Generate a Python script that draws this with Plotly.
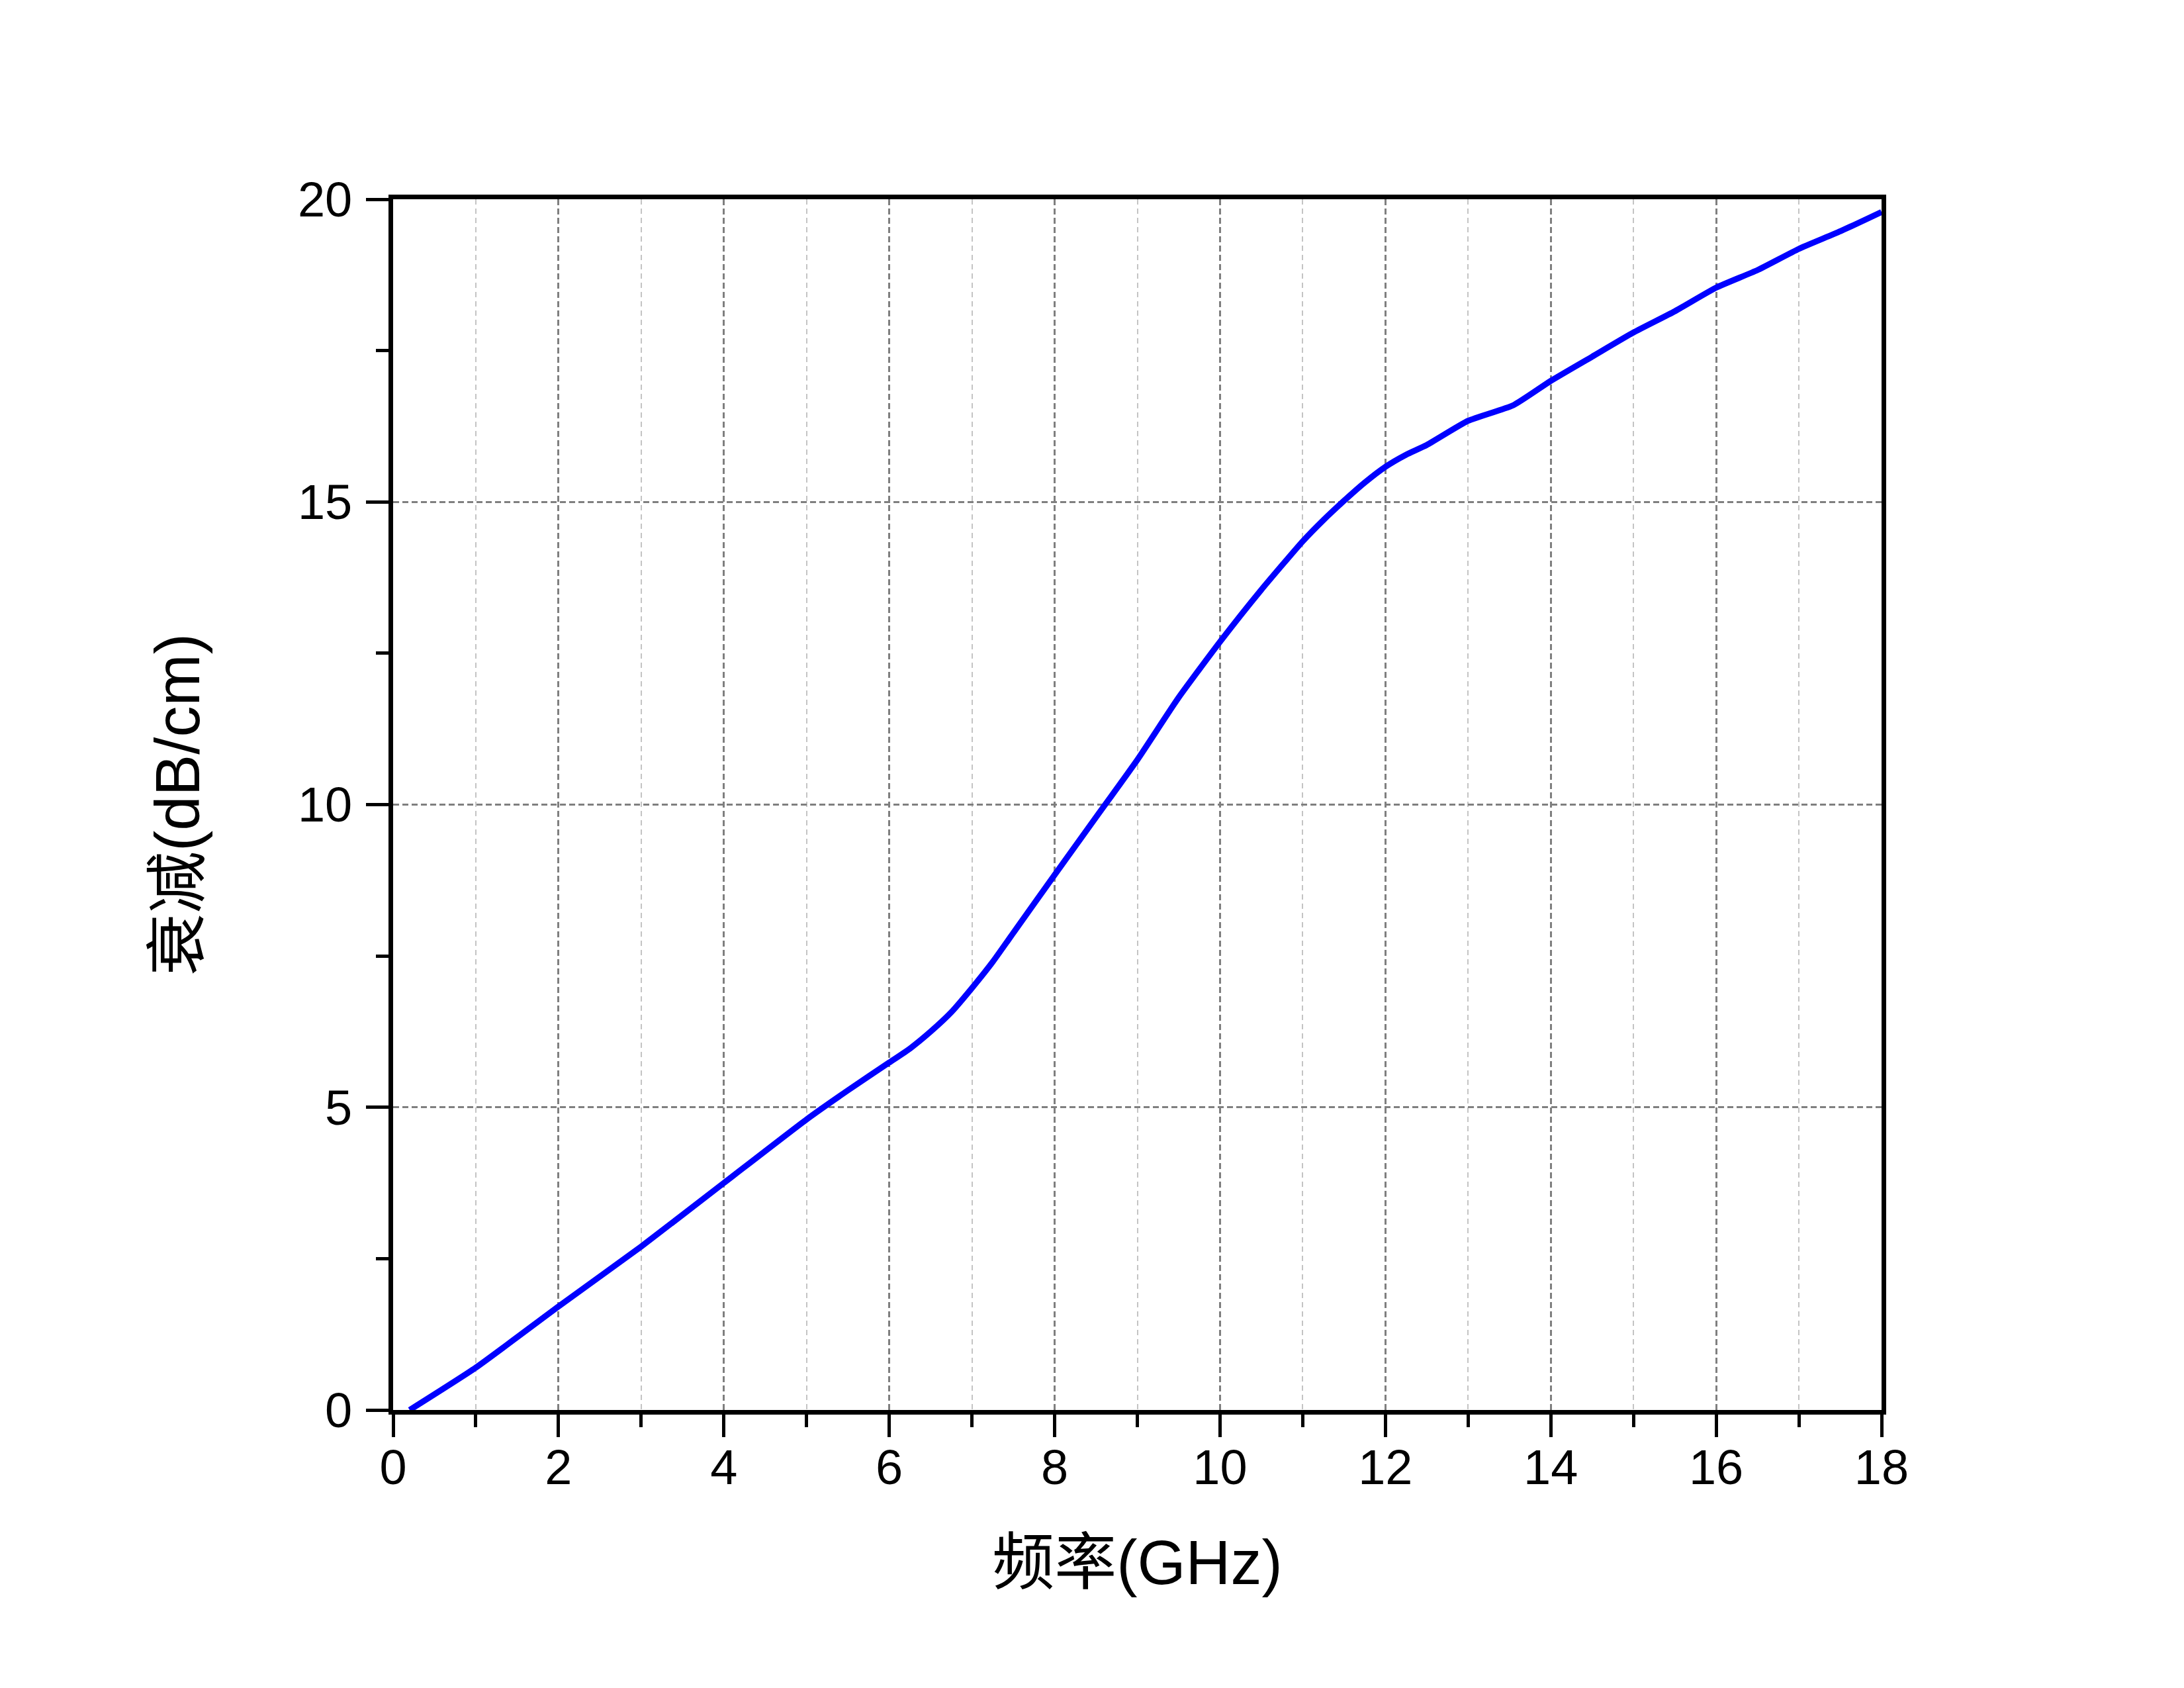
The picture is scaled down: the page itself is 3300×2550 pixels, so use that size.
import plotly.graph_objects as go

freq_ghz = [0.2, 1, 2, 3, 4, 5, 5.5, 6, 6.25, 6.5, 6.75, 7, 7.25, 7.5, 8,
            8.5, 9, 9.5, 10, 10.5, 11, 11.25, 11.5, 11.75, 12, 12.25, 12.5,
            13, 13.55, 14, 14.5, 15, 15.5, 16, 16.5, 17, 17.5, 18]
atten_db_cm = [0.0, 0.70, 1.71, 2.70, 3.75, 4.80, 5.28, 5.74, 5.97, 6.25,
               6.57, 6.97, 7.40, 7.88, 8.84, 9.79, 10.74, 11.77, 12.69,
               13.55, 14.35, 14.70, 15.02, 15.32, 15.58, 15.78, 15.94,
               16.34, 16.60, 17.0, 17.40, 17.80, 18.15, 18.54, 18.83, 19.18,
               19.47, 19.79]

x_title = "频率(GHz)"
y_title = "衰减(dB/cm)"

FONT = "Liberation Sans, Arial, Noto Sans CJK SC"

fig = go.Figure()
fig.add_trace(go.Scatter(
    x=freq_ghz, y=atten_db_cm, mode="lines",
    line=dict(color="#0000FF", width=9, shape="spline", smoothing=0.5),
    showlegend=False,
))

axis_common = dict(
    showline=True, linecolor="black", linewidth=7, mirror=True,
    ticks="outside", ticklen=34, tickwidth=5, tickcolor="black",
    showgrid=True, gridcolor="#7f7f7f", gridwidth=3, griddash="9px,5px",
    zeroline=False,
    tickfont=dict(family=FONT, size=74, color="black"),
)

fig.update_xaxes(
    **axis_common,
    range=[0, 18], dtick=2, tick0=0,
    ticklabelstandoff=-18,
    title=dict(text=x_title, font=dict(family=FONT, size=94, color="black"), standoff=73),
    minor=dict(dtick=1, ticklen=19, tickwidth=5, tickcolor="black", ticks="outside",
               showgrid=True, gridcolor="#c4c4c4", gridwidth=2, griddash="8px,6px"),
)
fig.update_yaxes(
    **axis_common,
    range=[0, 20], dtick=5, tick0=0,
    ticklabelstandoff=6,
    title=dict(text=y_title, font=dict(family=FONT, size=94, color="black"), standoff=119),
    minor=dict(dtick=2.5, ticklen=19, tickwidth=5, tickcolor="black", ticks="outside",
               showgrid=False),
)

fig.update_layout(
    width=3300, height=2550,
    margin=dict(l=586, r=465, t=293, b=428),
    paper_bgcolor="white", plot_bgcolor="white",
)

fig.write_html("out.html")
